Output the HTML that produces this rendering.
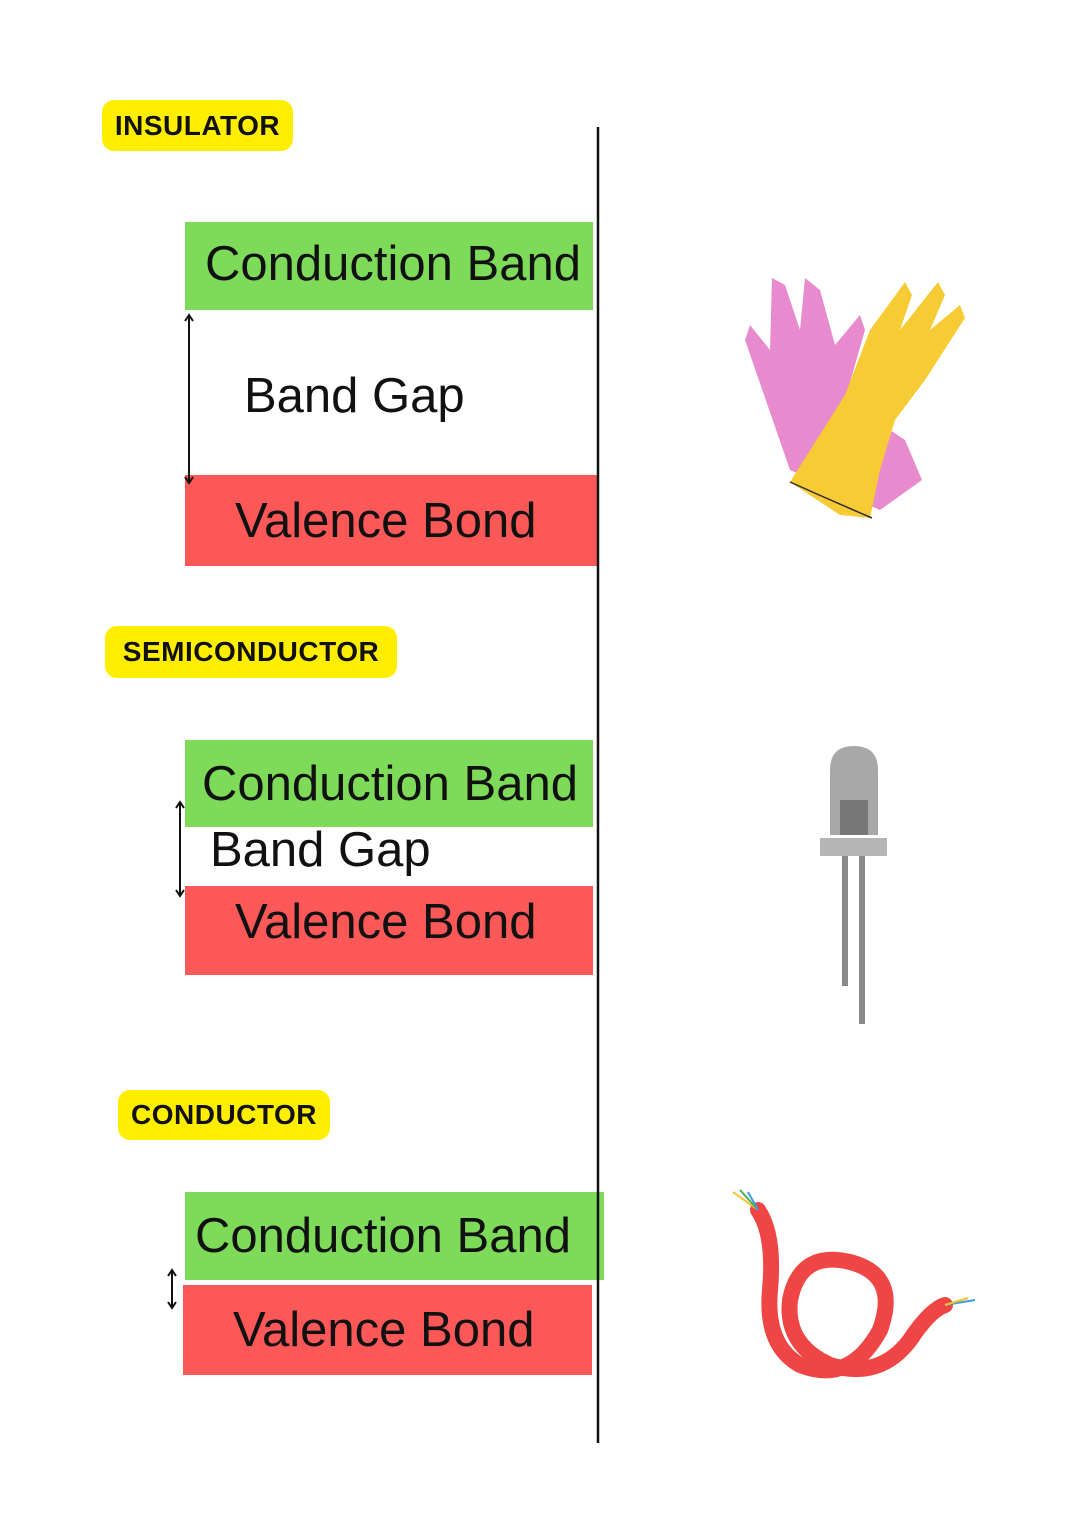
<!DOCTYPE html>
<html><head><meta charset="utf-8"><style>
body{margin:0;background:#fff;}
#c{position:relative;width:1086px;height:1536px;overflow:hidden;font-family:"Liberation Sans",sans-serif;}
.lab{position:absolute;background:#ffee00;border-radius:12px;font-weight:bold;font-size:28px;color:#111;display:flex;align-items:center;justify-content:center;letter-spacing:0.5px}
.b{position:absolute;font-size:49px;color:#111;display:flex;align-items:center;white-space:nowrap}
.g{background:#7edb5a}.r{background:#fd5858}
.t{position:absolute;font-size:49px;color:#111;white-space:nowrap}
</style></head><body><div id="c">
<div class="lab" style="left:102px;top:100px;width:191px;height:51px">INSULATOR</div>
<div class="b g" style="left:185px;top:222px;width:408px;height:88px;padding-left:20px;padding-bottom:4px;box-sizing:border-box">Conduction Band</div>
<div class="t" style="left:244px;top:368px">Band Gap</div>
<div class="b r" style="left:185px;top:475px;width:412px;height:91px;padding-left:50px;box-sizing:border-box">Valence Bond</div>

<div class="lab" style="left:105px;top:626px;width:292px;height:52px">SEMICONDUCTOR</div>
<div class="b g" style="left:185px;top:740px;width:408px;height:87px;padding-left:17px;box-sizing:border-box">Conduction Band</div>
<div class="t" style="left:210px;top:822px">Band Gap</div>
<div class="b r" style="left:185px;top:886px;width:408px;height:89px;padding-left:50px;padding-bottom:18px;box-sizing:border-box">Valence Bond</div>

<div class="lab" style="left:118px;top:1090px;width:212px;height:50px">CONDUCTOR</div>
<div class="b g" style="left:185px;top:1192px;width:419px;height:88px;padding-left:10px;box-sizing:border-box">Conduction Band</div>
<div class="b r" style="left:183px;top:1285px;width:409px;height:90px;padding-left:50px;box-sizing:border-box">Valence Bond</div>

<svg width="1086" height="1536" style="position:absolute;left:0;top:0">
<line x1="598" y1="127" x2="598" y2="1443" stroke="#111" stroke-width="2.5"/>
<g stroke="#111" stroke-width="2" fill="none">
<line x1="189" y1="316" x2="189" y2="482"/><polyline points="185,321 189,315 193,321"/><polyline points="185,477 189,483 193,477"/>
<line x1="180" y1="803" x2="180" y2="895"/><polyline points="176,808 180,802 184,808"/><polyline points="176,890 180,896 184,890"/>
<line x1="172" y1="1271" x2="172" y2="1307"/><polyline points="168,1276 172,1270 176,1276"/><polyline points="168,1302 172,1308 176,1302"/>
</g>
<path d="M790,470 L745,340 L750,325 L770,350 L772,278 L785,285 L800,330 L805,278 L820,290 L835,345 L860,315 L865,330 L845,400 L905,440 L922,480 L880,510 Z" fill="#e88bce"/>
<path d="M790,482 L845,395 L870,330 L905,282 L912,295 L900,330 L938,282 L945,295 L930,330 L960,305 L965,318 L925,380 L895,420 L880,470 L870,518 L840,515 Z" fill="#f7cb33"/>
<path d="M790,482 Q830,500 872,518" stroke="#2c2c2c" fill="none" stroke-width="1.5"/>
<path d="M830,835 L830,770 Q830,746 854,746 Q878,746 878,770 L878,835 Z" fill="#a8a8a8"/>
<rect x="840" y="800" width="28" height="35" fill="#777"/>
<rect x="820" y="838" width="67" height="18" fill="#b5b5b5"/>
<rect x="842" y="856" width="6" height="130" fill="#8a8a8a"/>
<rect x="859" y="856" width="6" height="168" fill="#8a8a8a"/>
<path d="M758,1210 Q775,1235 770,1290 Q765,1345 800,1365 Q850,1385 880,1330 Q900,1275 850,1262 Q800,1250 790,1300 Q785,1345 830,1365 Q880,1380 910,1340 Q930,1310 945,1305" stroke="#f04545" stroke-width="16" fill="none" stroke-linecap="round"/>
<g stroke-width="2" fill="none"><path d="M758,1210 L733,1192" stroke="#f2c12e"/><path d="M758,1210 L740,1190" stroke="#4cb04c"/><path d="M758,1210 L748,1192" stroke="#3a9de0"/><path d="M945,1305 L975,1300" stroke="#3a9de0"/><path d="M945,1305 L968,1298" stroke="#f2c12e"/></g>
</svg>
</div></body></html>
